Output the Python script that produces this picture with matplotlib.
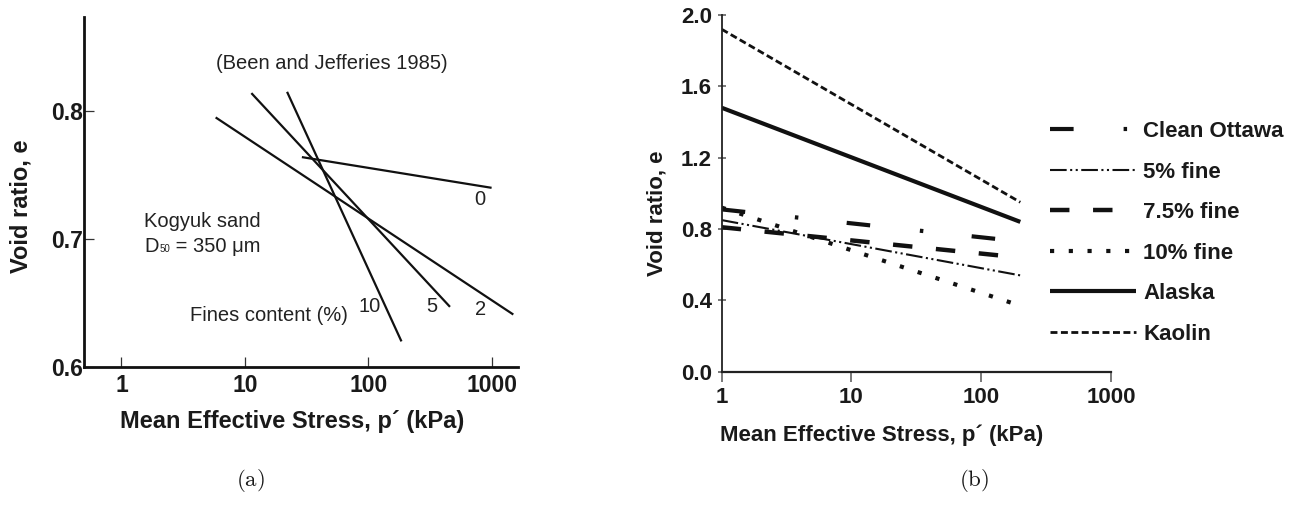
import matplotlib
matplotlib.use('Agg')
import matplotlib.pyplot as plt
import matplotlib.ticker as mticker

plt.rcParams['font.family'] = ['Liberation Sans', 'DejaVu Sans']
plt.rcParams['lines.scale_dashes'] = False
plt.rcParams['mathtext.fontset'] = 'cm'

W, H = 1300, 507

# panel (a): Kogyuk sand, Been and Jefferies 1985
fines = ['0', '2', '5', '10']
a_p = [[29, 1000], [5.8, 1500], [11.3, 460], [22, 186]]
a_e = [[0.764, 0.740], [0.795, 0.641], [0.814, 0.647], [0.815, 0.620]]
a_lab_p = [805, 816, 329, 102]
a_lab_e = [0.7305, 0.6453, 0.6469, 0.6471]

# panel (b)
b_names = ['Clean Ottawa', '5% fine', '7.5% fine', '10% fine', 'Alaska', 'Kaolin']
b_p = [1, 200]
b_e = [[0.91, 0.73], [0.85, 0.54], [0.81, 0.64], [0.92, 0.37], [1.48, 0.84], [1.92, 0.95]]
b_lw = [3.0, 1.5, 3.2, 3.0, 3.0, 2.0]
b_dash = [(17, 36, 2.5, 35), (12, 2.5, 1.5, 2.5, 1.5, 2.5), (14, 17), (3, 10.5), None, (5, 2.5)]

txt = '#1a1a1a'

fig = plt.figure(figsize=(13, 5.07), dpi=100)


def ftext(x, y, s, **kw):
    return fig.text(x / W, 1 - y / H, s, **kw)


# ---------- (a) ----------
ax1 = fig.add_axes([84.3 / W, (H - 367) / H, 433.7 / W, 350.3 / H])
for p, e in zip(a_p, a_e):
    ax1.plot(p, e, color='#111111', lw=1.6, solid_capstyle='butt')
for lab, p, e in zip(fines, a_lab_p, a_lab_e):
    ax1.text(p, e, lab, ha='center', va='center', fontsize=14.5, color='#222222')

ax1.set_xscale('log')
ax1.set_xlim(0.5, 1637)
ax1.set_ylim(0.6, 0.8737)
ax1.set_xticks([1, 10, 100, 1000])
ax1.set_yticks([0.6, 0.7, 0.8])
ax1.xaxis.set_major_formatter(mticker.FuncFormatter(lambda v, _: '%d' % v))
ax1.yaxis.set_major_formatter(mticker.FormatStrFormatter('%.1f'))
ax1.xaxis.set_minor_locator(mticker.NullLocator())
for s in ['top', 'right']:
    ax1.spines[s].set_visible(False)
for s in ['left', 'bottom']:
    ax1.spines[s].set_linewidth(2.0)
    ax1.spines[s].set_color('#111111')
ax1.tick_params(axis='x', direction='in', length=7, width=0.9, color='#333333',
                labelsize=16.5, pad=5, labelcolor=txt)
ax1.tick_params(axis='y', direction='in', length=7, width=0.9, color='#333333',
                labelsize=16.5, pad=1, labelcolor=txt)
for lbl in ax1.get_xticklabels() + ax1.get_yticklabels():
    lbl.set_fontweight('bold')

ax1.text(5.82, 0.8373, '(Been and Jefferies 1985)', ha='left', va='center',
         fontsize=14.5, color='#222222')
ax1.text(1.53, 0.7135, 'Kogyuk sand', ha='left', va='center', fontsize=14.5, color='#222222')
d = ax1.text(1.53, 0.694, 'D', ha='left', va='center', fontsize=14.5, color='#222222')
sub = ax1.annotate('50', xy=(1, 0), xycoords=d, xytext=(0.5, 1.5), textcoords='offset points',
                   ha='left', va='bottom', fontsize=7, color='#222222')
ax1.annotate(' = 350 \u03bcm', xy=(1, 0.5), xycoords=(sub, d), ha='left', va='center',
             fontsize=14.5, color='#222222')
ax1.text(3.58, 0.6406, 'Fines content (%)', ha='left', va='center', fontsize=14.5, color='#222222')

ftext(21, 206.7, 'Void ratio, e', rotation=90, ha='center', va='center',
      fontsize=17, fontweight='bold', color=txt)
ftext(291.7, 421.7, 'Mean Effective Stress, p\u00b4 (kPa)', ha='center', va='center',
      fontsize=17, fontweight='bold', color=txt)
ftext(250, 480, r'$\mathrm{(a)}$', ha='center', va='center', fontsize=16.5, color=txt)

# ---------- (b) ----------
ax2 = fig.add_axes([721.7 / W, (H - 371.7) / H, 389.3 / W, 356.7 / H])
handles = []
for name, e, lw, ds in zip(b_names, b_e, b_lw, b_dash):
    if ds is None:
        ln, = ax2.plot(b_p, e, color='#111111', lw=lw, label=name, solid_capstyle='butt')
    else:
        ln, = ax2.plot(b_p, e, color='#111111', lw=lw, label=name, dashes=ds,
                       dash_capstyle='butt')
    handles.append(ln)

ax2.set_xscale('log')
ax2.set_xlim(1, 1000)
ax2.set_ylim(0, 2.0)
ax2.set_xticks([1, 10, 100, 1000])
ax2.set_yticks([0.0, 0.4, 0.8, 1.2, 1.6, 2.0])
ax2.xaxis.set_major_formatter(mticker.FuncFormatter(lambda v, _: '%d' % v))
ax2.yaxis.set_major_formatter(mticker.FormatStrFormatter('%.1f'))
ax2.xaxis.set_minor_locator(mticker.NullLocator())
for s in ['top', 'right']:
    ax2.spines[s].set_visible(False)
ax2.spines['left'].set_linewidth(1.3)
ax2.spines['bottom'].set_linewidth(1.6)
for s in ['left', 'bottom']:
    ax2.spines[s].set_color('#222222')
ax2.tick_params(axis='x', direction='out', length=7, width=1.1, color='#555555',
                labelsize=16, pad=4, labelcolor=txt)
ax2.tick_params(axis='y', direction='inout', length=6, width=1.1, color='#555555',
                labelsize=16, pad=4, labelcolor=txt)
for lbl in ax2.get_xticklabels() + ax2.get_yticklabels():
    lbl.set_fontweight('bold')

leg = ax2.legend(handles=handles, loc='upper left', bbox_to_anchor=(1050 / W, 1 - 121 / H),
                 bbox_transform=fig.transFigure, frameon=False, fontsize=16,
                 handlelength=3.85, handletextpad=0.35, labelspacing=0.88,
                 borderpad=0, borderaxespad=0)
for t in leg.get_texts():
    t.set_fontweight('bold')
    t.set_color(txt)

ftext(657, 213, 'Void ratio, e', rotation=90, ha='center', va='center',
      fontsize=16, fontweight='bold', color=txt)
ftext(882, 435, 'Mean Effective Stress, p\u00b4 (kPa)', ha='center', va='center',
      fontsize=16, fontweight='bold', color=txt)
ftext(974, 480, r'$\mathrm{(b)}$', ha='center', va='center', fontsize=16.5, color=txt)

fig.savefig('out.png', dpi=100)
